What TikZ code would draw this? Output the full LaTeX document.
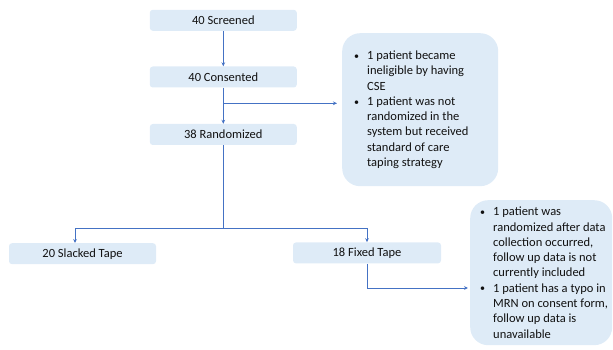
\documentclass[tikz,border=0pt]{standalone}
\usepackage{fontspec}
\setmainfont{Carlito}
\usetikzlibrary{arrows.meta,calc}
\definecolor{boxfill}{HTML}{DEEBF7}
\definecolor{linec}{HTML}{4472C4}
\definecolor{txt}{HTML}{111111}
\newcommand{\bul}{\makebox[12pt][l]{\hspace*{-1pt}\raisebox{0.3pt}{\normalsize•}}}
\newcommand{\ind}{\hspace*{12pt}}
\begin{document}
\begin{tikzpicture}[x=1pt,y=-1pt,
  every node/.style={font=\fontsize{12.5pt}{15.3pt}\selectfont, text=txt},
  smallbox/.style={fill=boxfill, rounded corners=3pt, minimum width=147pt, minimum height=21pt, inner sep=0pt},
  bubble/.style={fill=boxfill, rounded corners=18pt, inner sep=0pt, anchor=north west},
  bultext/.style={align=left, inner sep=0pt, anchor=west},
  conn/.style={draw=linec, line width=1pt},
  arr/.style={conn, -{Stealth[length=4pt,width=3.6pt]}}]
\useasboundingbox (0,0) rectangle (613,350);

\node[smallbox] (scr) at (223.3,20.3) {40 Screened};
\node[smallbox] (con) at (223.3,77) {40 Consented};
\node[smallbox] (ran) at (223.3,134.5) {38 Randomized};
\node[smallbox] (sla) at (82.5,253.7) {20 Slacked Tape};
\node[smallbox, minimum width=148pt] (fix) at (367,252.9) {18 Fixed Tape};

\node[bubble, minimum width=156pt, minimum height=153pt] (b1) at (342,33) {};
\node[bultext] (t1) at ([xshift=13pt]b1.west) {\bul 1 patient became\\ \ind ineligible by having\\ \ind CSE\\ \bul 1 patient was not\\ \ind randomized in the\\ \ind system but received\\ \ind standard of care\\ \ind taping strategy};

\node[bubble, minimum width=142pt, minimum height=145pt] (b2) at (470,200) {};
\node[bultext] (t2) at ([xshift=11pt]b2.west) {\bul 1 patient was\\ \ind randomized after data\\ \ind collection occurred,\\ \ind follow up data is not\\ \ind currently included\\ \bul 1 patient has a typo in\\ \ind MRN on consent form,\\ \ind follow up data is\\ \ind unavailable};

\coordinate (j1) at (223.3,103.3);
\coordinate (jl) at (75,228.3);
\coordinate (jr) at (367,228.3);
\coordinate (jf) at (367,288);

\draw[arr] (scr.south) -- (con.north);
\draw[arr] (con.south) -- (ran.north);
\draw[arr, shorten >=5pt] (j1) -- (j1 -| b1.west);
\draw[arr] (ran.south) |- (jl) -- (jl |- sla.north);
\draw[arr] (ran.south) |- (jr) -- (jr |- fix.north);
\draw[arr, shorten >=2pt] (fix.south) |- (jf) -- (jf -| b2.west);
\end{tikzpicture}
\end{document}
